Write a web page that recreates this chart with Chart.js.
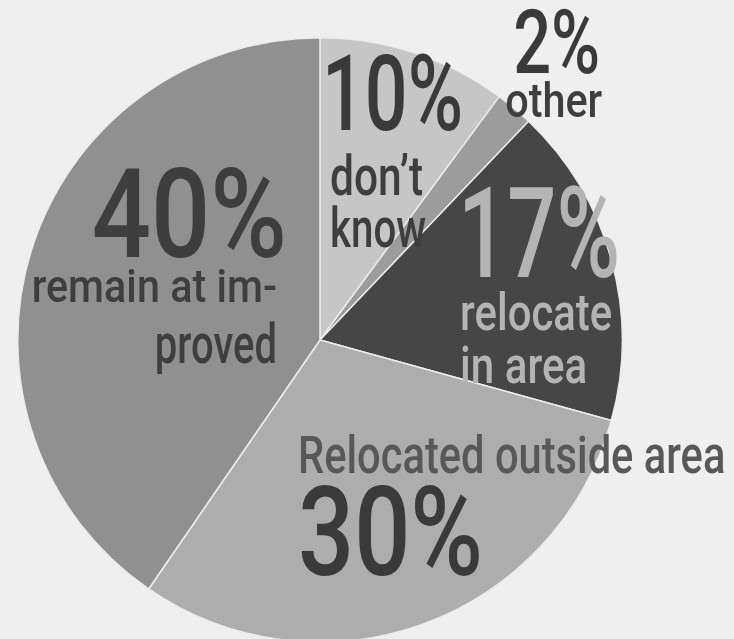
<!DOCTYPE html>
<html>
<head>
<meta charset="utf-8">
<script src="https://cdn.jsdelivr.net/npm/chart.js@4.4.1/dist/chart.umd.min.js"></script>
<style>
  html, body { margin: 0; padding: 0; background: #efefef; overflow: hidden; }
  #wrap { position: absolute; left: 0; top: 0; width: 734px; height: 700px; }
</style>
</head>
<body>
<div id="wrap"><canvas id="c"></canvas></div>
<script>
// Data
const categories = ["don’t know", "other", "relocate in area", "Relocated outside area", "remain at improved"];
const values = [10, 2, 17, 30, 40];
const percentLabels = ["10%", "2%", "17%", "30%", "40%"];
const sliceColors = ["#c6c6c6", "#9c9c9c", "#464646", "#adadad", "#909090"];

// Label text blocks (design offsets relative to pie centre for radius 302)
const labelLines = [
  { text: "10%", dx: 2, dy: -210, w: 141, size: 105, color: "#3a3a3a", align: "left" },
  { text: "don’t", dx: 10, dy: -145, w: 93, size: 56, color: "#3e3e3e", align: "left" },
  { text: "know", dx: 10, dy: -93, w: 96, size: 55, color: "#3e3e3e", align: "left" },
  { text: "2%", dx: 193, dy: -267, w: 87, size: 88, color: "#3a3a3a", align: "left" },
  { text: "other", dx: 185, dy: -223, w: 97, size: 48, color: "#3e3e3e", align: "left" },
  { text: "17%", dx: 138, dy: -63, w: 162, size: 126, color: "#b4b4b4", align: "left" },
  { text: "relocate", dx: 140, dy: -10, w: 152, size: 52, color: "#b4b4b4", align: "left" },
  { text: "in area", dx: 140, dy: 43, w: 127, size: 52, color: "#b4b4b4", align: "left" },
  { text: "40%", dx: -33, dy: -83, w: 195, size: 125, color: "#3e3e3e", align: "right" },
  { text: "remain at im-", dx: -43, dy: -38, w: 245, size: 46, color: "#3e3e3e", align: "right" },
  { text: "proved", dx: -43, dy: 23, w: 122, size: 56, color: "#3e3e3e", align: "right" },
  { text: "Relocated outside area", dx: -22, dy: 133, w: 427, size: 51, color: "#585858", align: "left" },
  { text: "30%", dx: -22, dy: 235, w: 185, size: 124, color: "#3a3a3a", align: "left" }
];

const labelPlugin = {
  id: 'pieLabels',
  afterDatasetsDraw(chart) {
    const arc = chart.getDatasetMeta(0).data[0];
    if (!arc) return;
    const cx = arc.x, cy = arc.y, r = arc.outerRadius;
    const k = r / 302;
    const ctx = chart.ctx;
    labelLines.forEach(l => {
      ctx.save();
      const size = l.size * k;
      ctx.font = "500 " + size + "px Roboto, 'DejaVu Sans', sans-serif";
      const m = ctx.measureText(l.text).width;
      const sx = (l.w * k) / m;
      const x = cx + l.dx * k, y = cy + l.dy * k;
      ctx.translate(x, y);
      ctx.scale(sx, 1);
      ctx.fillStyle = l.color;
      ctx.textBaseline = 'alphabetic';
      ctx.textAlign = l.align;
      ctx.fillText(l.text, 0, 0);
      ctx.restore();
    });
  }
};

new Chart(document.getElementById('c'), {
  type: 'pie',
  data: {
    labels: categories,
    datasets: [{
      data: values,
      backgroundColor: sliceColors,
      borderColor: '#ececec',
      borderWidth: 1.5,
      hoverOffset: 0
    }]
  },
  options: {
    responsive: true,
    maintainAspectRatio: false,
    animation: false,
    layout: { padding: { left: 17, top: 37, right: 111, bottom: 57 } },
    plugins: {
      legend: { display: false },
      tooltip: { enabled: false },
      title: { display: false }
    }
  },
  plugins: [labelPlugin]
});
</script>
</body>
</html>
